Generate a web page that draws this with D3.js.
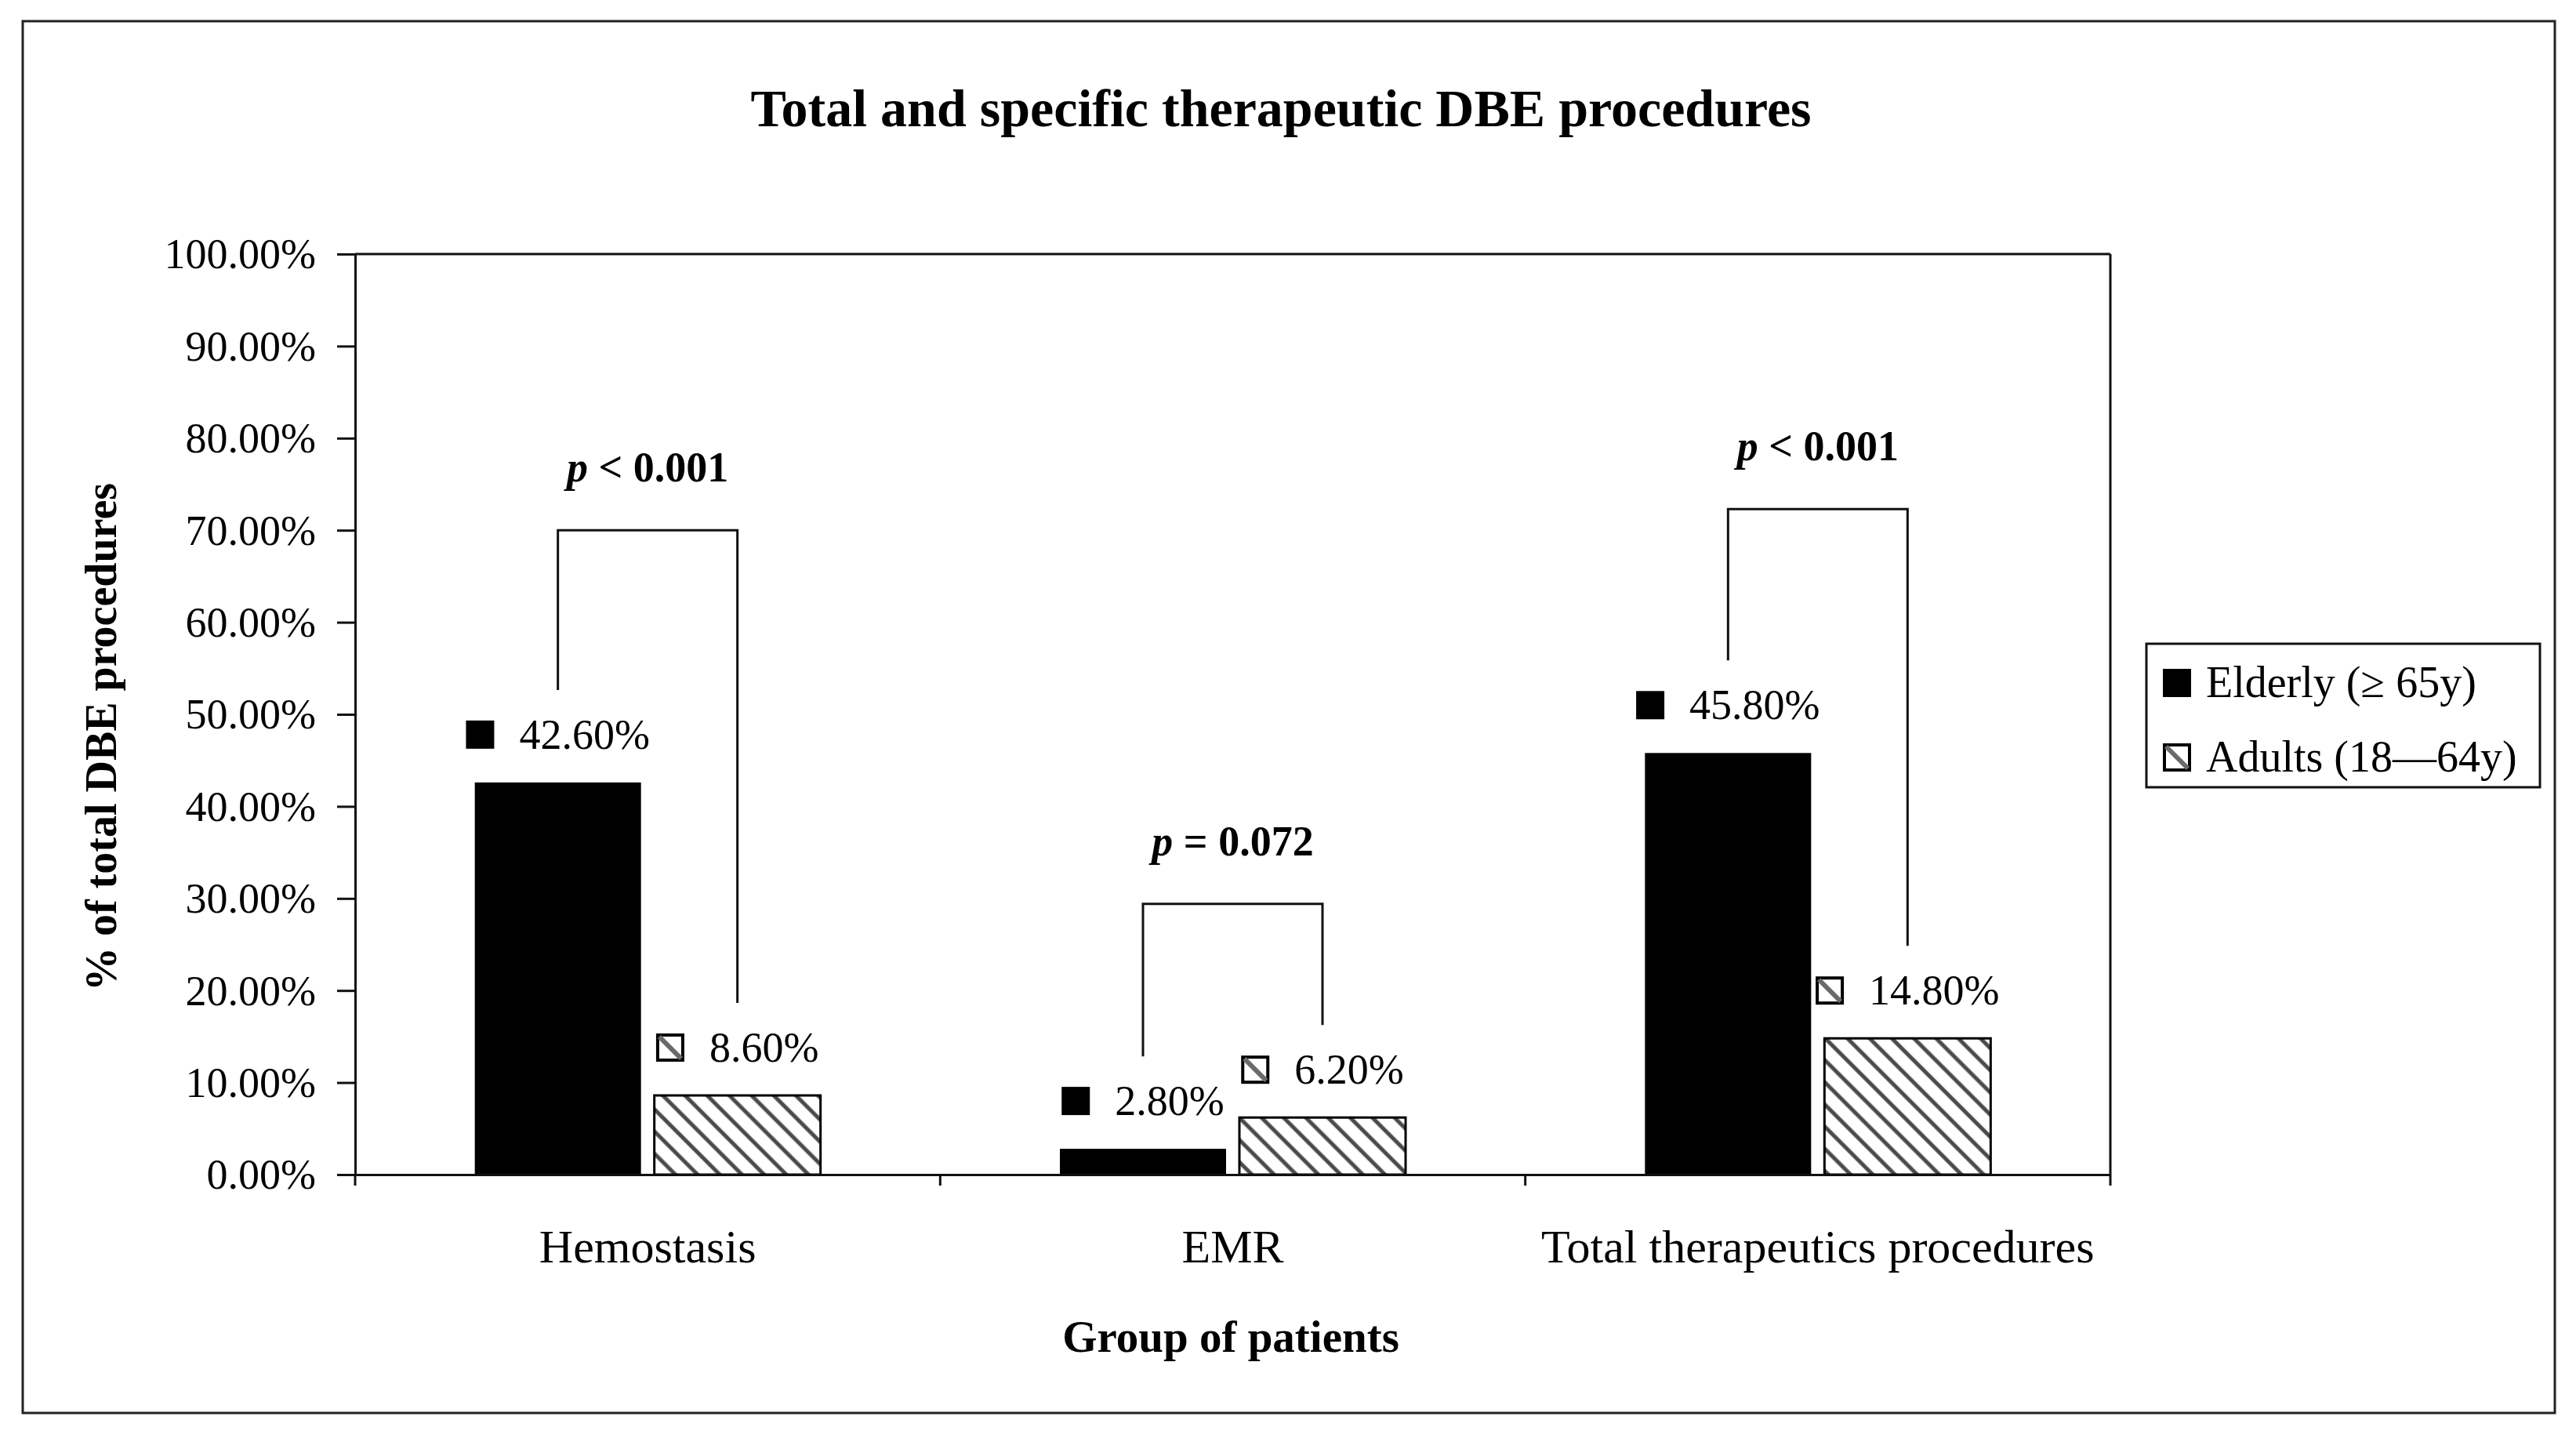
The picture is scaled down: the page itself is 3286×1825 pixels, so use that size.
<!DOCTYPE html>
<html>
<head>
<meta charset="utf-8">
<script src="https://cdn.jsdelivr.net/npm/d3@7"></script>
<style>
  html, body { margin: 0; padding: 0; background: #fff; }
  svg { display: block; }
  text { font-family: "Liberation Serif", "Times New Roman", serif; fill: #000; }
</style>
</head>
<body>
<svg id="chart" width="3286" height="1825"></svg>
<script>
// ---------- data ----------
const categories = ["Hemostasis", "EMR", "Total therapeutics procedures"];
const seriesNames = ["Elderly (\u2265 65y)", "Adults (18\u201464y)"];
const elderlyValues = [42.6, 2.8, 45.8];
const adultValues = [8.6, 6.2, 14.8];
const yTickValues = [0, 10, 20, 30, 40, 50, 60, 70, 80, 90, 100];
const pLabels = [["p", " < 0.001"], ["p", " = 0.072"], ["p", " < 0.001"]];
const bracketTops = [70.0, 29.4, 72.3];
const chartTitle = "Total and specific therapeutic DBE procedures";
const yTitle = "% of total DBE procedures";
const xTitle = "Group of patients";

// ---------- layout ----------
const W = 3286, H = 1825;
const plot = { left: 453, right: 2692, top: 324, bottom: 1498 };
const svg = d3.select("#chart");

const defs = svg.append("defs");
const pat = defs.append("pattern")
  .attr("id", "hatch")
  .attr("patternUnits", "userSpaceOnUse")
  .attr("width", 20).attr("height", 20)
  .attr("patternTransform", "rotate(-45)");
pat.append("rect").attr("width", 20).attr("height", 20).attr("fill", "#fff");
pat.append("rect").attr("x", 7.5).attr("y", 0).attr("width", 5).attr("height", 20).attr("fill", "#4a4a4a");

// outer border
svg.append("rect").attr("x", 29).attr("y", 27).attr("width", 3230).attr("height", 1775)
  .attr("fill", "#fff").attr("stroke", "#222").attr("stroke-width", 3);

// scales
const x = d3.scaleBand().domain(categories).range([plot.left, plot.right]).padding(0);
const bw = x.bandwidth();
const x1 = d3.scaleBand().domain(seriesNames)
  .range([bw / 2 - 220.5, bw / 2 + 220.5]).paddingInner(17 / 229).paddingOuter(0);
const y = d3.scaleLinear().domain([0, 100]).range([plot.bottom, plot.top]);

const rows = categories.map((c, i) => ({ cat: c, vals: [elderlyValues[i], adultValues[i]] }));

// frame top & right
svg.append("line").attr("x1", plot.left).attr("x2", plot.right).attr("y1", plot.top).attr("y2", plot.top)
  .attr("stroke", "#111").attr("stroke-width", 3);
svg.append("line").attr("x1", plot.right).attr("x2", plot.right).attr("y1", plot.top).attr("y2", plot.bottom)
  .attr("stroke", "#111").attr("stroke-width", 3);

// bars
const g = svg.append("g");
rows.forEach((r, i) => {
  r.vals.forEach((v, j) => {
    const bx = x(r.cat) + x1(seriesNames[j]);
    g.append("rect")
      .attr("x", bx).attr("y", y(v))
      .attr("width", x1.bandwidth()).attr("height", y(0) - y(v))
      .attr("fill", j === 0 ? "#000" : "url(#hatch)")
      .attr("stroke", "#000").attr("stroke-width", j === 0 ? 0 : 3);
  });
});

// y axis
const yAxis = d3.axisLeft(y).tickValues(yTickValues)
  .tickFormat(d => d.toFixed(2) + "%").tickSize(23).tickSizeOuter(0).tickPadding(27);
const ya = svg.append("g").attr("transform", `translate(${plot.left},0)`).call(yAxis);
ya.selectAll("path,line").attr("stroke", "#111").attr("stroke-width", 3);
ya.selectAll("text").style("font-size", "54px").attr("dy", "0.33em");

// x axis (labels at band centres, ticks at band boundaries)
const xAxis = d3.axisBottom(x).tickSize(0).tickSizeOuter(0).tickPadding(69);
const xa = svg.append("g").attr("transform", `translate(0,${plot.bottom})`).call(xAxis);
xa.select(".domain").attr("stroke", "#111").attr("stroke-width", 3);
xa.selectAll("text").style("font-size", "60px");
const boundaries = categories.map(c => x(c)).concat([x.range()[1]]);
svg.append("g").selectAll("line").data(boundaries).join("line")
  .attr("x1", d => d).attr("x2", d => d)
  .attr("y1", plot.bottom).attr("y2", plot.bottom + 14)
  .attr("stroke", "#111").attr("stroke-width", 3);

// value labels
function drawMarker(sel, mx, my, s, j) {
  if (j === 0) {
    sel.append("rect").attr("x", mx).attr("y", my - s / 2).attr("width", s).attr("height", s).attr("fill", "#000");
  } else {
    sel.append("rect").attr("x", mx + 2).attr("y", my - s / 2 + 2).attr("width", s - 4).attr("height", s - 4)
      .attr("fill", "#fff").attr("stroke", "#000").attr("stroke-width", 4);
    sel.append("line").attr("x1", mx + 4).attr("y1", my - s / 2 + 4).attr("x2", mx + s - 4).attr("y2", my + s / 2 - 4)
      .attr("stroke", "#6a6a6a").attr("stroke-width", 6);
  }
}
const vfs = 54;
rows.forEach((r, i) => {
  r.vals.forEach((v, j) => {
    const cx = x(r.cat) + x1(seriesNames[j]) + x1.bandwidth() / 2;
    const cy = y(v) - 61;
    const lg = svg.append("g");
    const t = lg.append("text").style("font-size", vfs + "px")
      .attr("y", cy + vfs * 0.33).text(v.toFixed(2) + "%");
    const tw = t.node().getComputedTextLength();
    const s = 36, gap = 32;
    const total = s + gap + tw;
    const left = cx - total / 2;
    t.attr("x", left + s + gap);
    drawMarker(lg, left, cy, s, j);
  });
});

// significance brackets
rows.forEach((r, i) => {
  const xl = x(r.cat) + x1(seriesNames[0]) + x1.bandwidth() / 2;
  const xr = x(r.cat) + x1(seriesNames[1]) + x1.bandwidth() / 2;
  const yt = y(bracketTops[i]);
  const ylb = y(r.vals[0]) - 118;
  const yrb = y(r.vals[1]) - 118;
  svg.append("path")
    .attr("d", `M${xl},${ylb} L${xl},${yt} L${xr},${yt} L${xr},${yrb}`)
    .attr("fill", "none").attr("stroke", "#111").attr("stroke-width", 3);
  const pt = svg.append("text").attr("x", (xl + xr) / 2).attr("y", yt - 80 + 54 * 0.33)
    .attr("text-anchor", "middle").style("font-size", "54px").style("font-weight", "bold");
  pt.append("tspan").style("font-style", "italic").text(pLabels[i][0]);
  pt.append("tspan").text(pLabels[i][1]);
});

// legend
const leg = svg.append("g");
leg.append("rect").attr("x", 2738).attr("y", 821).attr("width", 502).attr("height", 183)
  .attr("fill", "#fff").attr("stroke", "#111").attr("stroke-width", 3);
const legY = [871, 966];
seriesNames.forEach((n, j) => {
  drawMarker(leg, 2759, legY[j], 36, j);
  leg.append("text").attr("x", 2814).attr("y", legY[j] + 56 * 0.33)
    .style("font-size", "56px").text(n);
});

// titles
svg.append("text").attr("x", 1634).attr("y", 139 + 68 * 0.33).attr("text-anchor", "middle")
  .style("font-size", "68px").style("font-weight", "bold").text(chartTitle);
svg.append("text").attr("transform", "translate(130,940) rotate(-90)").attr("y", 56 * 0.33)
  .attr("text-anchor", "middle").style("font-size", "56px").style("font-weight", "bold").text(yTitle);
svg.append("text").attr("x", 1570).attr("y", 1705 + 57 * 0.33).attr("text-anchor", "middle")
  .style("font-size", "57px").style("font-weight", "bold").text(xTitle);
</script>
</body>
</html>
